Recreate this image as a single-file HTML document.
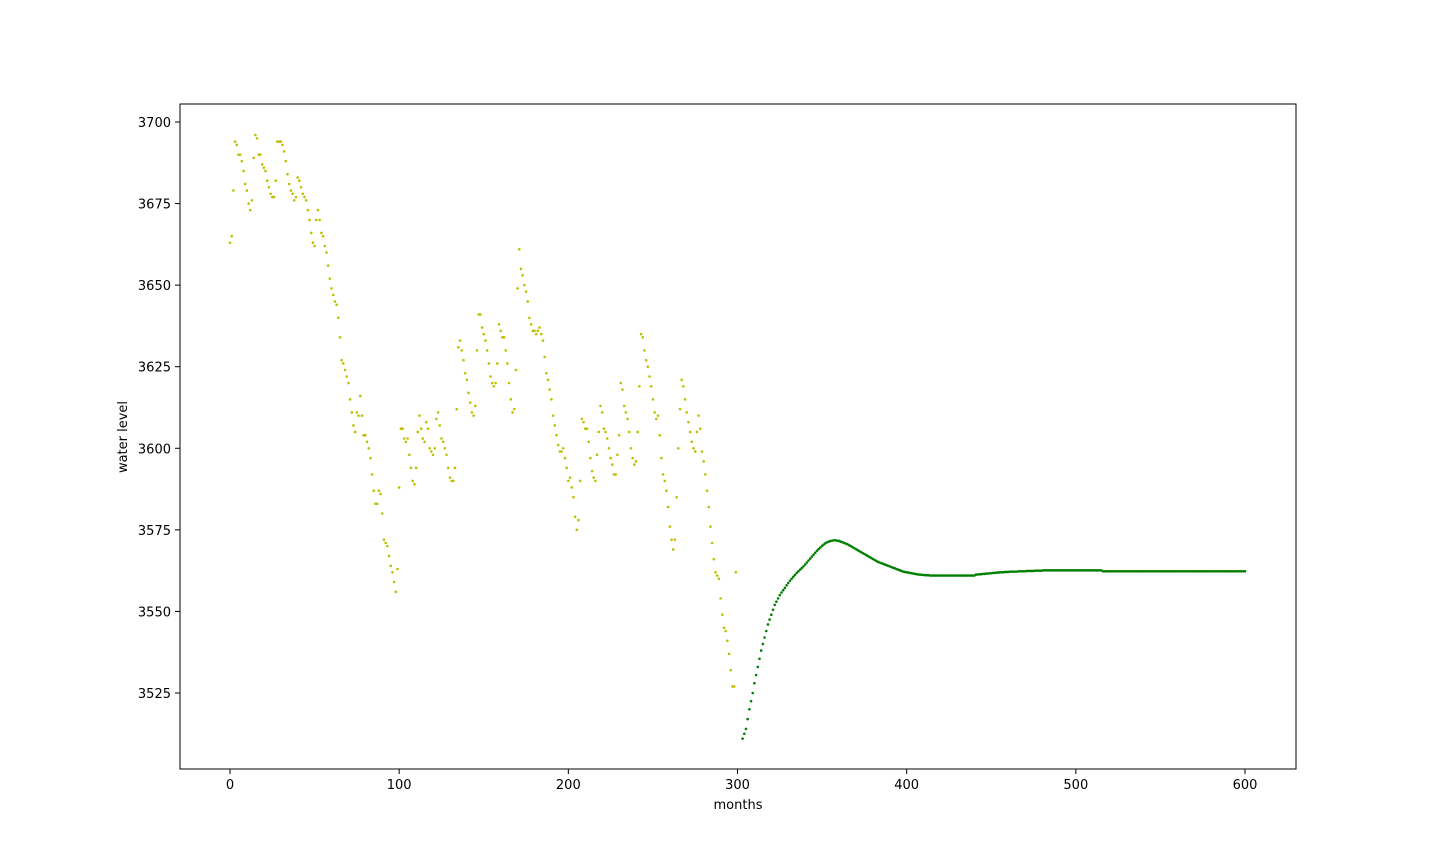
<!DOCTYPE html>
<html><head><meta charset="utf-8"><style>
html,body{margin:0;padding:0;background:#fff;}
svg{display:block;font-family:"DejaVu Sans","Liberation Sans",sans-serif;}
</style></head><body>
<svg id="chart" width="1440" height="864" viewBox="0 0 1440 864" xmlns="http://www.w3.org/2000/svg">
<rect x="0" y="0" width="1440" height="864" fill="#fff"/>
<g id="marks"></g>
<rect x="180" y="104" width="1116" height="665" fill="none" stroke="#000" stroke-width="1"/>
<g id="xticks"></g>
<g id="yticks"></g>
<text x="738" y="809" font-size="13" text-anchor="middle">months</text>
<text x="127" y="437" font-size="13" text-anchor="middle" transform="rotate(-90 127 437)">water level</text>
</svg>
<script>
const xTicks = [0,100,200,300,400,500,600];
const yTicks = [3525,3550,3575,3600,3625,3650,3675,3700];
const observedLevels = [
3663,3665,3679,3694,3693,3690,3690,3688,3685,3681,
3679,3675,3673,3676,3689,3696,3695,3690,3690,3687,
3686,3685,3682,3680,3678,3677,3677,3682,3694,3694,
3694,3693,3691,3688,3684,3681,3679,3678,3676,3677,
3683,3682,3680,3678,3677,3676,3673,3670,3666,3663,
3662,3670,3673,3670,3666,3665,3662,3660,3656,3652,
3649,3647,3645,3644,3640,3634,3627,3626,3624,3622,
3620,3615,3611,3607,3605,3611,3610,3616,3610,3604,
3604,3602,3600,3597,3592,3587,3583,3583,3587,3586,
3580,3572,3571,3570,3567,3564,3562,3559,3556,3563,
3588,3606,3606,3603,3602,3603,3598,3594,3590,3589,
3594,3605,3610,3606,3603,3602,3608,3606,3600,3599,
3598,3600,3609,3611,3607,3603,3602,3600,3598,3594,
3591,3590,3590,3594,3612,3631,3633,3630,3627,3623,
3621,3617,3614,3611,3610,3613,3630,3641,3641,3637,
3635,3633,3630,3626,3622,3620,3619,3620,3626,3638,
3636,3634,3634,3630,3626,3620,3615,3611,3612,3624,
3649,3661,3655,3653,3650,3648,3645,3640,3638,3636,
3636,3635,3636,3637,3635,3633,3628,3623,3621,3618,
3615,3610,3607,3604,3601,3599,3599,3600,3597,3594,
3590,3591,3588,3585,3579,3575,3578,3590,3609,3608,
3606,3606,3602,3597,3593,3591,3590,3598,3605,3613,
3611,3606,3605,3603,3600,3597,3595,3592,3592,3598,
3604,3620,3618,3613,3611,3609,3605,3600,3597,3595,
3596,3605,3619,3635,3634,3630,3627,3625,3622,3619,
3615,3611,3609,3610,3604,3597,3592,3590,3587,3582,
3576,3572,3569,3572,3585,3600,3612,3621,3619,3615,
3611,3608,3605,3602,3600,3599,3605,3610,3606,3599,
3596,3592,3587,3582,3576,3571,3566,3562,3561,3560,
3554,3549,3545,3544,3541,3537,3532,3527,3527,3562];
const observedStart = 0;
const forecastStart = 303;
const forecastLevels = [
3511,3512.5,3514,3517,3520,3522.5,3525,3528,
3530.5,3533,3535.5,3538,3540,3542,3544,3546,3547.5,3549,
3550.5,3552,3553,3554,3555,3555.8,3556.5,3557.2,3558,3558.7,
3559.4,3560,3560.6,3561.2,3561.8,3562.3,3562.8,3563.3,3563.8,3564.4,
3565,3565.6,3566.2,3566.8,3567.4,3568,3568.6,3569.1,3569.6,3570.1,
3570.5,3570.9,3571.2,3571.4,3571.6,3571.7,3571.8,3571.8,3571.7,3571.6,
3571.4,3571.2,3571,3570.8,3570.6,3570.3,3570,3569.7,3569.4,3569.1,
3568.8,3568.5,3568.2,3567.9,3567.6,3567.3,3567,3566.7,3566.4,3566.1,
3565.8,3565.5,3565.2,3565,3564.8,3564.6,3564.4,3564.2,3564,3563.8,
3563.6,3563.4,3563.2,3563,3562.8,3562.6,3562.4,3562.2,3562.1,3562,
3561.9,3561.8,3561.7,3561.6,3561.5,3561.4,3561.3,3561.3,3561.2,3561.2,
3561.1,3561.1,3561.1,3561,3561,3561,3561,3561,3561,3561,
3561,3561,3561,3561,3561,3561,3561,3561,3561,3561,
3561,3561,3561,3561,3561,3561,3561,3561,3561,3561,
3561.3,3561.3,3561.4,3561.4,3561.5,3561.5,3561.6,3561.6,3561.7,3561.7,
3561.8,3561.8,3561.9,3561.9,3562,3562,3562,3562.1,3562.1,3562.1,
3562.2,3562.2,3562.2,3562.2,3562.2,3562.3,3562.3,3562.3,3562.3,3562.3,
3562.4,3562.4,3562.4,3562.4,3562.4,3562.5,3562.5,3562.5,3562.5,3562.5,
3562.6,3562.6,3562.6,3562.6,3562.6,3562.6,3562.6,3562.6,3562.6,3562.6,
3562.6,3562.6,3562.6,3562.6,3562.6,3562.6,3562.6,3562.6,3562.6,3562.6,
3562.6,3562.6,3562.6,3562.6,3562.6,3562.6,3562.6,3562.6,3562.6,3562.6,
3562.6,3562.6,3562.6,3562.6,3562.6,
3562.3,3562.3,3562.3,3562.3,3562.3,3562.3,3562.3,3562.3,3562.3,3562.3,
3562.3,3562.3,3562.3,3562.3,3562.3,3562.3,3562.3,3562.3,3562.3,3562.3,
3562.3,3562.3,3562.3,3562.3,3562.3,3562.3,3562.3,3562.3,3562.3,3562.3,
3562.3,3562.3,3562.3,3562.3,3562.3,3562.3,3562.3,3562.3,3562.3,3562.3,
3562.3,3562.3,3562.3,3562.3,3562.3,3562.3,3562.3,3562.3,3562.3,3562.3,
3562.3,3562.3,3562.3,3562.3,3562.3,3562.3,3562.3,3562.3,3562.3,3562.3,
3562.3,3562.3,3562.3,3562.3,3562.3,3562.3,3562.3,3562.3,3562.3,3562.3,
3562.3,3562.3,3562.3,3562.3,3562.3,3562.3,3562.3,3562.3,3562.3,3562.3,
3562.3,3562.3,3562.3,3562.3,3562.3];

const NS = "http://www.w3.org/2000/svg";
function xScale(m){ return 230 + (m - 0) * (1245 - 230) / 600; }
function yScale(v){ return 122 + (3700 - v) * (693 - 122) / 175; }

const marks = document.getElementById('marks');
function dot(m, v, color, name){
  const c = document.createElementNS(NS, 'circle');
  c.setAttribute('cx', xScale(m).toFixed(2));
  c.setAttribute('cy', yScale(v).toFixed(2));
  c.setAttribute('r', '1.3');
  c.setAttribute('fill', color);
  
  
  marks.appendChild(c);
}
observedLevels.forEach((v, i) => dot(observedStart + i, v, '#bfbf00', 'observed-point'));
forecastLevels.forEach((v, i) => dot(forecastStart + i, v, '#008000', 'forecast-point'));

const xg = document.getElementById('xticks');
xTicks.forEach(t => {
  const x = xScale(t);
  const l = document.createElementNS(NS, 'line');
  l.setAttribute('x1', x); l.setAttribute('x2', x);
  l.setAttribute('y1', 769); l.setAttribute('y2', 774);
  l.setAttribute('stroke', '#000');
  
  
  xg.appendChild(l);
  const tx = document.createElementNS(NS, 'text');
  tx.setAttribute('x', x); tx.setAttribute('y', 789);
  tx.setAttribute('font-size', '13'); tx.setAttribute('text-anchor', 'middle');
  tx.textContent = t;
  
  
  xg.appendChild(tx);
});
const yg = document.getElementById('yticks');
yTicks.forEach(t => {
  const y = yScale(t);
  const l = document.createElementNS(NS, 'line');
  l.setAttribute('x1', 175); l.setAttribute('x2', 180);
  l.setAttribute('y1', y); l.setAttribute('y2', y);
  l.setAttribute('stroke', '#000');
  
  
  yg.appendChild(l);
  const tx = document.createElementNS(NS, 'text');
  tx.setAttribute('x', 171); tx.setAttribute('y', y + 5);
  tx.setAttribute('font-size', '13'); tx.setAttribute('text-anchor', 'end');
  tx.textContent = t;
  
  
  yg.appendChild(tx);
});
</script>
</body></html>
